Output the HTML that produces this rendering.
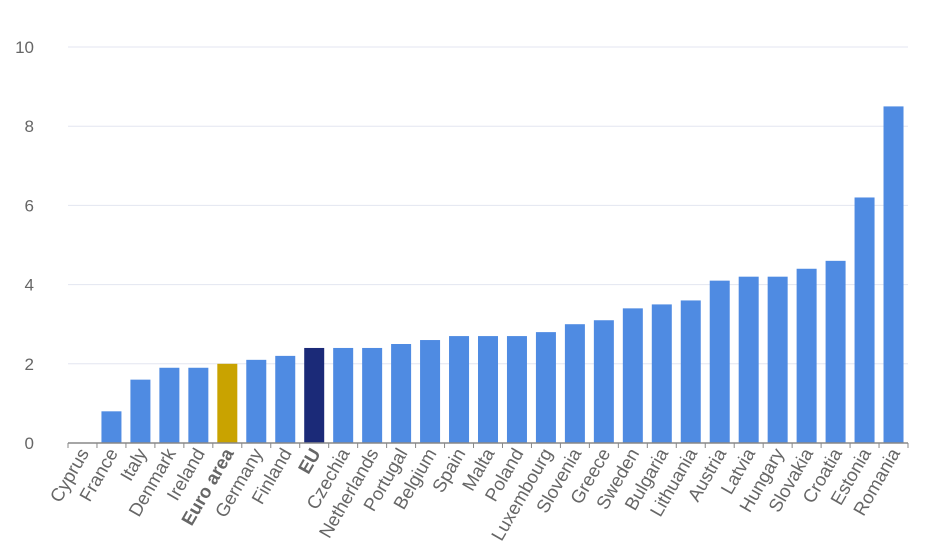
<!DOCTYPE html>
<html><head><meta charset="utf-8"><style>
body{margin:0;background:#fff;}
svg{display:block;font-family:"Liberation Sans",sans-serif;}
</style></head><body>
<svg id="chart" width="929" height="551" viewBox="0 0 929 551" xmlns="http://www.w3.org/2000/svg"></svg>
<script>
const categories=["Cyprus","France","Italy","Denmark","Ireland","Euro area","Germany","Finland","EU","Czechia","Netherlands","Portugal","Belgium","Spain","Malta","Poland","Luxembourg","Slovenia","Greece","Sweden","Bulgaria","Lithuania","Austria","Latvia","Hungary","Slovakia","Croatia","Estonia","Romania"];
const values=[0,0.8,1.6,1.9,1.9,2.0,2.1,2.2,2.4,2.4,2.4,2.5,2.6,2.7,2.7,2.7,2.8,3.0,3.1,3.4,3.5,3.6,4.1,4.2,4.2,4.4,4.6,6.2,8.5];
const yTicks=[0,2,4,6,8,10];
const NS="http://www.w3.org/2000/svg";
const svg=document.getElementById("chart");
const x0=68,x1=908,yBase=443,yTop=47,yMax=10;
const band=(x1-x0)/categories.length;
const y=v=>yBase-(v/yMax)*(yBase-yTop);
const xc=i=>x0+band*(i+0.5);
function mk(t,a){const e=document.createElementNS(NS,t);for(const k in a)e.setAttribute(k,a[k]);svg.appendChild(e);return e;}
yTicks.forEach(t=>{
 if(t>0){const g=mk("line",{x1:x0,x2:x1,y1:y(t),y2:y(t),stroke:"#e3e6f0","stroke-width":1});
 
 }
 const l=mk("text",{x:34,y:y(t)+6,"text-anchor":"end","font-size":17,fill:"#666"});
 l.textContent=t;
 
 
});
categories.forEach((c,i)=>{
 const v=values[i];
 const col=c==="Euro area"?"#c9a300":(c==="EU"?"#1b2a78":"#4f8be2");
 const r=mk("rect",{x:xc(i)-10,y:y(v),width:20,height:yBase-y(v),fill:col});
 
 
 const tx=xc(i)+7,ty=453;
 const t=mk("text",{x:tx,y:ty,"text-anchor":"end","font-size":18.5,fill:"#666",transform:`rotate(-60 ${tx} ${ty})`});
 if(c==="EU"||c==="Euro area")t.setAttribute("font-weight","bold");
 t.textContent=c;
 
 
});
for(let i=0;i<=categories.length;i++){
 const tk=mk("line",{x1:x0+band*i,x2:x0+band*i,y1:yBase,y2:yBase+5,stroke:"#888","stroke-width":1});
 
 
}
const ax=mk("line",{x1:x0,x2:x1,y1:yBase,y2:yBase,stroke:"#888","stroke-width":1.5});


</script>
</body></html>
